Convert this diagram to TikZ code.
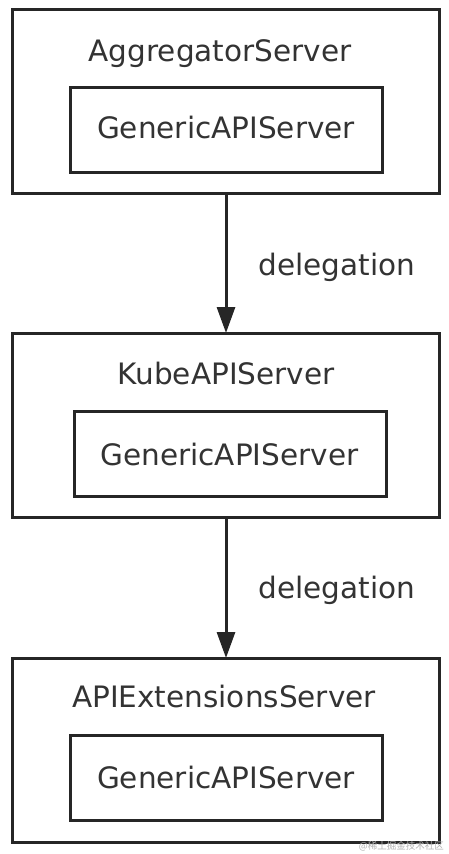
\documentclass[tikz,border=0pt]{standalone}
\usepackage{fontspec}
\setmainfont{DejaVu Sans}
\newfontfamily\cjkfont{Noto Sans CJK SC}
\usetikzlibrary{arrows.meta}
\definecolor{linec}{HTML}{262626}
\definecolor{textc}{HTML}{333333}
\tikzset{
  outerbox/.style={draw=linec, line width=3pt, minimum width=427pt, minimum height=184pt, inner sep=0pt},
  innerbox/.style={draw=linec, line width=3pt, minimum width=312pt, minimum height=85pt, inner sep=0pt},
  lbl/.style={anchor=base, text=textc, font=\fontsize{29.5}{32}\selectfont, inner sep=0pt},
  arr/.style={draw=linec, line width=3pt, -{Triangle[width=18pt,length=26pt]}, shorten >=-1.5pt},
}
\begin{document}
\begin{tikzpicture}[x=1pt,y=-1pt]
\useasboundingbox[fill=white] (0,0) rectangle (448,854);
% outer boxes
\node[outerbox] (agg) at (225.5,101.75) {};
\node[outerbox] (kube) at (225.5,425) {};
\node[outerbox] (ext) at (225.5,750) {};
% inner boxes
\node[innerbox] (g1) at (226,130) {};
\node[innerbox] (g2) at (230,454) {};
\node[innerbox] (g3) at (226,778) {};
% titles
\node[lbl] (t1) at (220,61.7) {AggregatorServer};
\node[lbl] (t2) at (226,384) {KubeAPIServer};
\node[lbl] (t3) at (224,707) {APIExtensionsServer};
% inner texts
\node[lbl] (s1) at (226,138.5) {GenericAPIServer};
\node[lbl] (s2) at (229.5,465) {GenericAPIServer};
\node[lbl] (s3) at (226,788) {GenericAPIServer};
% connectors
\draw[arr] (agg.south -| 226,0) -- (kube.north -| 226,0);
\draw[arr] (kube.south -| 226,0) -- (ext.north -| 226,0);
\node[lbl] (d1) at (337,275) {delegation};
\node[lbl] (d2) at (337,598) {delegation};
% watermark
\node[anchor=east, text=black!30, font=\cjkfont\fontsize{9.5}{10}\selectfont, inner sep=0pt] (wm) at (444,846) {@稀土掘金技术社区};
\end{tikzpicture}
\end{document}
